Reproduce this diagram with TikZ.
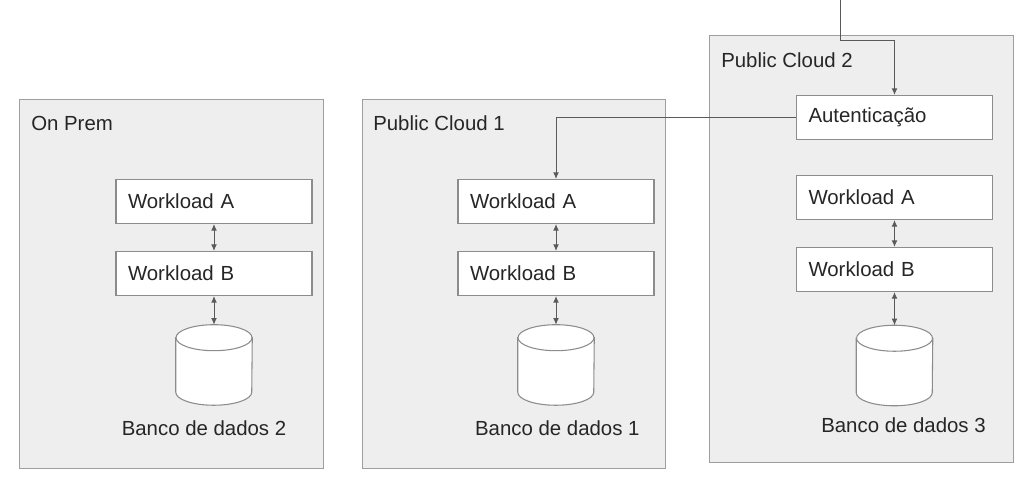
\documentclass[tikz,border=0pt]{standalone}
\usepackage{fontspec}
\setmainfont{Liberation Sans}
\usetikzlibrary{shapes.geometric,arrows.meta,positioning}
\definecolor{cloudfill}{HTML}{EEEEEE}
\definecolor{cloudline}{HTML}{9E9E9E}
\definecolor{boxline}{HTML}{8C8C8C}
\definecolor{linkline}{HTML}{5A5A5A}
\definecolor{inkcol}{HTML}{262626}
\def\px{0.75pt}
\def\wsep{54pt}
\def\dbsep{68.6pt}
\def\lblsep{47.25pt}
\def\dbrx{28.5pt}
\def\dbry{9.75pt}
\tikzset{
  container/.style={
    rectangle,
    draw=cloudline,
    fill=cloudfill,
    line width=0.8pt,
    anchor=north west,
    minimum width=#1,
    inner sep=0pt,
  },
  cloudtitle/.style={
    anchor=base west,
    inner sep=0pt,
    text=inkcol,
    font=\fontsize{15.3}{18}\selectfont
  },
  workload/.style={
    rectangle,
    draw=boxline,
    fill=white,
    line width=0.8pt,
    text width=172*\px,
    inner xsep=12*\px,
    minimum height=44*\px,
    align=left,
    text=inkcol,
    font=\fontsize{15.3}{18}\selectfont
  },
  dbnode/.style={
    rectangle,
    minimum width=76*\px,
    minimum height=80*\px,
    inner sep=0pt
  },
  dbline/.style={draw=boxline, fill=white, line width=0.8pt},
  dblabel/.style={
    text=inkcol,
    inner sep=0pt,
    font=\fontsize{15.3}{18}\selectfont
  },
  link/.style={draw=linkline, line width=0.75pt},
  tip/.tip={Latex[length=5pt,width=4.4pt]},
}
% cylinder drawn over a named db node
\def\dbshape#1{
  \draw[dbline] ([yshift=-\dbry]#1.north west) -- ([yshift=\dbry]#1.south west)
    arc[start angle=180, end angle=360, x radius=\dbrx, y radius=\dbry]
    -- ([yshift=-\dbry]#1.north east) -- cycle;
  \draw[dbline] ([yshift=-\dbry]#1.north) ellipse[x radius=\dbrx, y radius=\dbry];
}

\begin{document}
\begin{tikzpicture}[x=\px, y=-\px, node distance=\wsep]
    \useasboundingbox (0,0) rectangle (1027,476);

    %% Containers
    \node[container=304*\px, minimum height=369*\px] (onprem) at (19,99) {};
    \node[container=303*\px, minimum height=369*\px] (cloud1) at (362,99) {};
    \node[container=304*\px, minimum height=427*\px] (cloud2) at (709,35) {};
    \node[cloudtitle] (tprem) at (31,130) {On Prem};
    \node[cloudtitle] (tcloud1) at (373,130) {Public Cloud 1};
    \node[cloudtitle] (tcloud2) at (721,67) {Public Cloud 2};

    %% On Prem
    \node[workload] (wa2) at (214,201.5) {Workload A};
    \node[workload, below of=wa2] (wb2) {Workload B};
    \node[dbnode, below of=wb2, node distance=\dbsep] (db2) {};
    \dbshape{db2}
    \node[dblabel, below of=db2, node distance=\lblsep, xshift=-7.5pt] (ldb2) {Banco de dados 2};

    %% Public Cloud 1
    \node[workload] (wa1) at (556,201.5) {Workload A};
    \node[workload, below of=wa1] (wb1) {Workload B};
    \node[dbnode, below of=wb1, node distance=\dbsep] (db1) {};
    \dbshape{db1}
    \node[dblabel, below of=db1, node distance=\lblsep, xshift=1pt] (ldb1) {Banco de dados 1};

    %% Public Cloud 2
    \node[workload] (auth) at (894.5,117.5) {Autenticação};
    \node[workload] (wa3) at (894.5,197.5) {Workload A};
    \node[workload, below of=wa3] (wb3) {Workload B};
    \node[dbnode, below of=wb3, node distance=72pt] (db3) {};
    \dbshape{db3}
    \node[dblabel, below of=db3, node distance=44.6pt, xshift=6.75pt] (ldb3) {Banco de dados 3};

    %% Edges
    \coordinate (feed) at (840,0);
    \coordinate (feedbend) at (840,40);
    \draw[link, -tip] (feed) -- (feedbend) -| (auth.north);
    \draw[link, -tip] (auth.west) -| (wa1.north);

    \draw[link, tip-tip] (wa2) -- (wb2);
    \draw[link, tip-tip] (wb2) -- (db2.north);
    \draw[link, tip-tip] (wa1) -- (wb1);
    \draw[link, tip-tip] (wb1) -- (db1.north);
    \draw[link, tip-tip] (wa3) -- (wb3);
    \draw[link, tip-tip] (wb3) -- (db3.north);
\end{tikzpicture}
\end{document}
